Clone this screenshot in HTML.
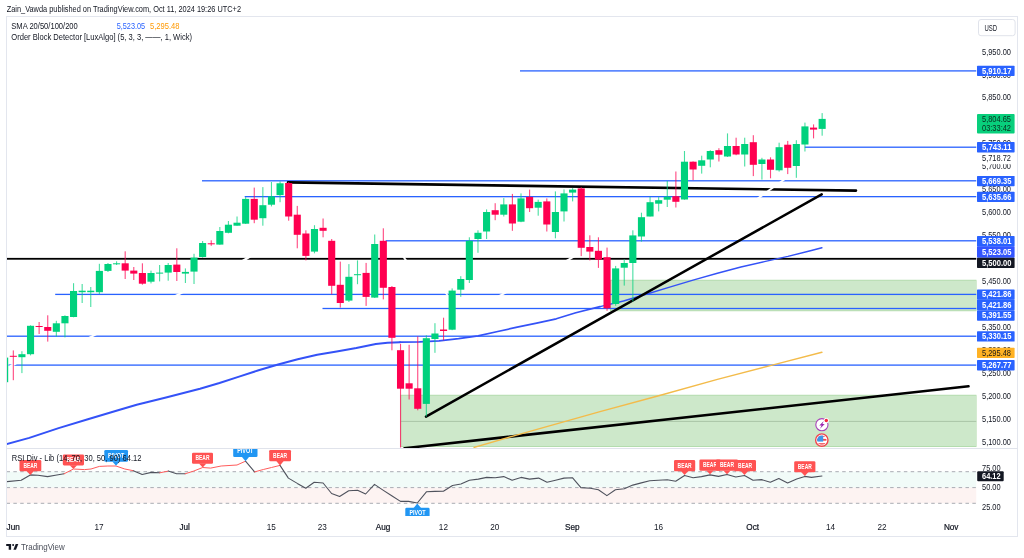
<!DOCTYPE html>
<html lang="en"><head><meta charset="utf-8"><title>US500 chart</title>
<style>html,body{margin:0;padding:0;background:#fff;overflow:hidden}svg{display:block}</style></head>
<body>
<svg width="1024" height="558" viewBox="0 0 1024 558" font-family="'Liberation Sans', Arial, sans-serif">
<defs><clipPath id="cm"><rect x="7" y="17" width="969.5" height="431"/></clipPath><clipPath id="cr"><rect x="7" y="449" width="969.5" height="67"/></clipPath></defs>
<rect width="1024" height="558" fill="#fff"/>
<rect x="6.5" y="16.5" width="1011" height="520" fill="#fff" stroke="#e3e6ee" stroke-width="1"/>
<line x1="6.5" y1="448.5" x2="1017.5" y2="448.5" stroke="#e0e3eb" stroke-width="1"/>
<g clip-path="url(#cm)">
<rect x="400.8" y="395.2" width="575.7" height="51.4" fill="#cde8ca" stroke="#a8d8a2" stroke-width="0.8"/>
<line x1="400.8" y1="421.4" x2="976.5" y2="421.4" stroke="#a9c4a6" stroke-width="1"/>
<rect x="610.5" y="280.2" width="366.0" height="30.600000000000023" fill="#cde8ca" stroke="#a8d8a2" stroke-width="0.8"/>
<rect x="520" y="70.25" width="456.5" height="1.3" fill="#2962ff"/>
<rect x="804.8" y="146.55" width="171.7" height="1.3" fill="#2962ff"/>
<rect x="202" y="180.15" width="774.5" height="1.3" fill="#2962ff"/>
<rect x="244.7" y="196.00" width="731.8" height="1.3" fill="#2962ff"/>
<rect x="385.7" y="240.15" width="590.8" height="1.3" fill="#2962ff"/>
<rect x="55.2" y="293.75" width="921.3" height="1.3" fill="#2962ff"/>
<rect x="322.5" y="307.85" width="654.0" height="1.3" fill="#2962ff"/>
<rect x="6.5" y="335.55" width="970.0" height="1.3" fill="#2962ff"/>
<rect x="8.5" y="364.45" width="968.0" height="1.3" fill="#2962ff"/>
<rect x="6.5" y="257.9" width="970.0" height="1.8" fill="#000"/>
<polyline fill="none" stroke="#3452f7" stroke-width="2.0" stroke-linejoin="round" stroke-linecap="round" points="6.5,444.2 29.3,437.9 58.6,428.1 87.9,419.3 117.2,410.5 136.7,404.7 166,397.5 200,388.7 219.5,383 239.1,376.6 258.6,370.3 278.1,364.5 297.7,359.2 317.2,354.7 336.7,351.4 356.3,347.9 375.8,343.9 387.5,342.7 400,342.2"/>
<polyline fill="none" stroke="#3452f7" stroke-width="1.7" stroke-linejoin="round" stroke-linecap="round" points="400,342.2 419.5,341.8 439.1,340.8 458.6,338.7 478.1,335.8 497.7,331.5 517.2,327.2 536.7,323.1 556.3,318.8 575.8,312.8 600,306.6"/>
<polyline fill="none" stroke="#3452f7" stroke-width="1.45" stroke-linejoin="round" stroke-linecap="round" points="600,306.6 623.5,301 647,294 670.5,286.9 693.9,279.9 717.4,273.3 740.9,267 764.4,261.6 787.9,256.4 811.4,250.5 821.9,247.7"/>
<line x1="288" y1="182.4" x2="856" y2="190.6" stroke="#000" stroke-width="2.6" stroke-linecap="round"/>
<line x1="426" y1="416.6" x2="821.7" y2="194.3" stroke="#000" stroke-width="2.5" stroke-linecap="round"/>
<line x1="404.5" y1="448.2" x2="968.5" y2="386.3" stroke="#000" stroke-width="2.6" stroke-linecap="round"/>
<polyline fill="none" stroke="#f3bb4a" stroke-width="1.4" stroke-linejoin="round" stroke-linecap="round" points="474.1,447.4 513.9,435.8 600,411.7 658.7,395.8 717.4,379.3 776.1,364.1 821.9,352.3"/>
<line x1="757" y1="199" x2="786" y2="178.2" stroke="#fff" stroke-width="1.9"/>
<line x1="240.9" y1="262.0" x2="250.9" y2="256.0" stroke="#fff" stroke-width="2.6"/>
<line x1="402.9" y1="256.0" x2="407.1" y2="262.0" stroke="#fff" stroke-width="2.0"/>
<line x1="564.7" y1="261.8" x2="574.7" y2="256.2" stroke="#fff" stroke-width="2.0"/>
<line x1="497.3" y1="297.1" x2="507.3" y2="291.6" stroke="#fff" stroke-width="2.0"/>
<line x1="444.4" y1="291.4" x2="449.4" y2="297.4" stroke="#fff" stroke-width="1.6"/>
<line x1="173.5" y1="297.0" x2="183.5" y2="291.8" stroke="#fff" stroke-width="2.0"/>
<line x1="87.5" y1="338.7" x2="97.5" y2="333.7" stroke="#fff" stroke-width="2.0"/>
<line x1="7.6" y1="368.1" x2="17.6" y2="362.1" stroke="#fff" stroke-width="2.4"/>
<g>
<rect x="6.5" y="357.6" width="1.7" height="24.6" fill="#00d17d"/>
<rect x="12.77" y="350.4" width="1.1" height="29.8" fill="#ff0050" opacity="0.72"/>
<rect x="9.77" y="355.8" width="7.1" height="1.0" fill="#ff0050"/>
<rect x="21.37" y="351.2" width="1.1" height="21.9" fill="#00d17d" opacity="0.72"/>
<rect x="18.37" y="354.2" width="7.1" height="3.0" fill="#00d17d"/>
<rect x="29.98" y="325.3" width="1.1" height="30.1" fill="#00d17d" opacity="0.72"/>
<rect x="26.98" y="325.8" width="7.1" height="28.4" fill="#00d17d"/>
<rect x="38.58" y="322.0" width="1.1" height="12.0" fill="#ff0050" opacity="0.72"/>
<rect x="35.58" y="326.0" width="7.1" height="1.0" fill="#ff0050"/>
<rect x="47.19" y="315.3" width="1.1" height="26.3" fill="#ff0050" opacity="0.72"/>
<rect x="44.19" y="327.0" width="7.1" height="3.8" fill="#ff0050"/>
<rect x="55.79" y="320.8" width="1.1" height="15.8" fill="#00d17d" opacity="0.72"/>
<rect x="52.79" y="323.3" width="7.1" height="8.5" fill="#00d17d"/>
<rect x="64.40" y="315.3" width="1.1" height="22.1" fill="#00d17d" opacity="0.72"/>
<rect x="61.40" y="316.0" width="7.1" height="7.3" fill="#00d17d"/>
<rect x="73.00" y="283.2" width="1.1" height="34.1" fill="#00d17d" opacity="0.72"/>
<rect x="70.00" y="291.0" width="7.1" height="26.0" fill="#00d17d"/>
<rect x="81.61" y="284.0" width="1.1" height="19.0" fill="#00d17d" opacity="0.72"/>
<rect x="78.61" y="290.7" width="7.1" height="1.5" fill="#00d17d"/>
<rect x="90.21" y="287.0" width="1.1" height="20.0" fill="#00d17d" opacity="0.72"/>
<rect x="87.21" y="290.7" width="7.1" height="1.5" fill="#00d17d"/>
<rect x="98.82" y="263.8" width="1.1" height="30.2" fill="#00d17d" opacity="0.72"/>
<rect x="95.82" y="270.9" width="7.1" height="21.3" fill="#00d17d"/>
<rect x="107.42" y="263.0" width="1.1" height="9.0" fill="#00d17d" opacity="0.72"/>
<rect x="104.42" y="264.0" width="7.1" height="6.9" fill="#00d17d"/>
<rect x="116.03" y="261.3" width="1.1" height="3.7" fill="#00d17d" opacity="0.72"/>
<rect x="113.03" y="263.3" width="7.1" height="1.0" fill="#00d17d"/>
<rect x="124.63" y="251.3" width="1.1" height="27.7" fill="#ff0050" opacity="0.72"/>
<rect x="121.63" y="263.3" width="7.1" height="7.3" fill="#ff0050"/>
<rect x="133.23" y="267.0" width="1.1" height="13.0" fill="#ff0050" opacity="0.72"/>
<rect x="130.23" y="270.6" width="7.1" height="3.0" fill="#ff0050"/>
<rect x="141.84" y="263.3" width="1.1" height="21.4" fill="#ff0050" opacity="0.72"/>
<rect x="138.84" y="273.0" width="7.1" height="10.7" fill="#ff0050"/>
<rect x="150.44" y="270.6" width="1.1" height="12.8" fill="#00d17d" opacity="0.72"/>
<rect x="147.44" y="273.0" width="7.1" height="8.7" fill="#00d17d"/>
<rect x="159.05" y="265.0" width="1.1" height="16.4" fill="#00d17d" opacity="0.72"/>
<rect x="156.05" y="272.6" width="7.1" height="1.0" fill="#00d17d"/>
<rect x="167.65" y="263.0" width="1.1" height="17.7" fill="#00d17d" opacity="0.72"/>
<rect x="164.65" y="265.0" width="7.1" height="7.6" fill="#00d17d"/>
<rect x="176.26" y="248.3" width="1.1" height="32.7" fill="#ff0050" opacity="0.72"/>
<rect x="173.26" y="264.6" width="7.1" height="7.4" fill="#ff0050"/>
<rect x="184.86" y="268.4" width="1.1" height="14.6" fill="#00d17d" opacity="0.72"/>
<rect x="181.86" y="271.9" width="7.1" height="1.7" fill="#00d17d"/>
<rect x="193.47" y="253.8" width="1.1" height="30.2" fill="#00d17d" opacity="0.72"/>
<rect x="190.47" y="257.6" width="7.1" height="14.0" fill="#00d17d"/>
<rect x="202.07" y="241.0" width="1.1" height="16.6" fill="#00d17d" opacity="0.72"/>
<rect x="199.07" y="243.0" width="7.1" height="14.0" fill="#00d17d"/>
<rect x="210.68" y="240.3" width="1.1" height="5.5" fill="#ff0050" opacity="0.72"/>
<rect x="207.68" y="243.3" width="7.1" height="1.0" fill="#ff0050"/>
<rect x="219.28" y="227.0" width="1.1" height="17.8" fill="#00d17d" opacity="0.72"/>
<rect x="216.28" y="231.0" width="7.1" height="13.6" fill="#00d17d"/>
<rect x="227.88" y="221.0" width="1.1" height="12.3" fill="#00d17d" opacity="0.72"/>
<rect x="224.88" y="224.7" width="7.1" height="8.1" fill="#00d17d"/>
<rect x="236.49" y="216.5" width="1.1" height="9.2" fill="#00d17d" opacity="0.72"/>
<rect x="233.49" y="222.7" width="7.1" height="3.0" fill="#00d17d"/>
<rect x="245.09" y="197.1" width="1.1" height="26.9" fill="#00d17d" opacity="0.72"/>
<rect x="242.09" y="198.9" width="7.1" height="24.8" fill="#00d17d"/>
<rect x="253.70" y="187.6" width="1.1" height="35.6" fill="#ff0050" opacity="0.72"/>
<rect x="250.70" y="198.9" width="7.1" height="20.8" fill="#ff0050"/>
<rect x="262.30" y="187.1" width="1.1" height="38.6" fill="#00d17d" opacity="0.72"/>
<rect x="259.30" y="205.2" width="7.1" height="13.0" fill="#00d17d"/>
<rect x="270.91" y="182.0" width="1.1" height="24.4" fill="#00d17d" opacity="0.72"/>
<rect x="267.91" y="196.4" width="7.1" height="8.3" fill="#00d17d"/>
<rect x="279.51" y="181.3" width="1.1" height="20.9" fill="#00d17d" opacity="0.72"/>
<rect x="276.51" y="183.3" width="7.1" height="11.8" fill="#00d17d"/>
<rect x="288.12" y="182.0" width="1.1" height="38.7" fill="#ff0050" opacity="0.72"/>
<rect x="285.12" y="183.0" width="7.1" height="33.5" fill="#ff0050"/>
<rect x="296.72" y="205.9" width="1.1" height="42.4" fill="#ff0050" opacity="0.72"/>
<rect x="293.72" y="214.7" width="7.1" height="20.1" fill="#ff0050"/>
<rect x="305.33" y="230.3" width="1.1" height="30.1" fill="#ff0050" opacity="0.72"/>
<rect x="302.33" y="233.5" width="7.1" height="22.4" fill="#ff0050"/>
<rect x="313.93" y="225.2" width="1.1" height="28.1" fill="#00d17d" opacity="0.72"/>
<rect x="310.93" y="229.0" width="7.1" height="22.6" fill="#00d17d"/>
<rect x="322.54" y="218.5" width="1.1" height="18.8" fill="#ff0050" opacity="0.72"/>
<rect x="319.54" y="227.8" width="7.1" height="3.0" fill="#ff0050"/>
<rect x="331.14" y="239.0" width="1.1" height="55.3" fill="#ff0050" opacity="0.72"/>
<rect x="328.14" y="240.8" width="7.1" height="45.0" fill="#ff0050"/>
<rect x="339.74" y="261.6" width="1.1" height="46.0" fill="#ff0050" opacity="0.72"/>
<rect x="336.74" y="284.8" width="7.1" height="18.2" fill="#ff0050"/>
<rect x="348.35" y="264.1" width="1.1" height="37.9" fill="#00d17d" opacity="0.72"/>
<rect x="345.35" y="276.8" width="7.1" height="23.8" fill="#00d17d"/>
<rect x="356.95" y="260.4" width="1.1" height="23.8" fill="#00d17d" opacity="0.72"/>
<rect x="353.95" y="274.2" width="7.1" height="1.0" fill="#00d17d"/>
<rect x="365.56" y="262.9" width="1.1" height="43.0" fill="#ff0050" opacity="0.72"/>
<rect x="362.56" y="272.9" width="7.1" height="24.0" fill="#ff0050"/>
<rect x="374.16" y="234.5" width="1.1" height="63.5" fill="#00d17d" opacity="0.72"/>
<rect x="371.16" y="244.0" width="7.1" height="53.6" fill="#00d17d"/>
<rect x="382.77" y="228.3" width="1.1" height="71.1" fill="#ff0050" opacity="0.72"/>
<rect x="379.77" y="240.8" width="7.1" height="47.0" fill="#ff0050"/>
<rect x="391.37" y="286.0" width="1.1" height="64.3" fill="#ff0050" opacity="0.72"/>
<rect x="388.37" y="287.0" width="7.1" height="50.8" fill="#ff0050"/>
<rect x="399.98" y="343.8" width="1.1" height="103.7" fill="#ff0050" opacity="0.72"/>
<rect x="396.98" y="350.2" width="7.1" height="38.5" fill="#ff0050"/>
<rect x="408.58" y="344.8" width="1.1" height="54.7" fill="#ff0050" opacity="0.72"/>
<rect x="405.58" y="383.3" width="7.1" height="5.4" fill="#ff0050"/>
<rect x="417.19" y="336.4" width="1.1" height="73.9" fill="#ff0050" opacity="0.72"/>
<rect x="414.19" y="388.3" width="7.1" height="20.5" fill="#ff0050"/>
<rect x="425.79" y="335.3" width="1.1" height="81.3" fill="#00d17d" opacity="0.72"/>
<rect x="422.79" y="338.2" width="7.1" height="65.7" fill="#00d17d"/>
<rect x="434.40" y="323.2" width="1.1" height="29.6" fill="#00d17d" opacity="0.72"/>
<rect x="431.40" y="333.5" width="7.1" height="5.5" fill="#00d17d"/>
<rect x="443.00" y="317.7" width="1.1" height="22.6" fill="#ff0050" opacity="0.72"/>
<rect x="440.00" y="329.5" width="7.1" height="1.5" fill="#ff0050"/>
<rect x="451.60" y="288.4" width="1.1" height="41.8" fill="#00d17d" opacity="0.72"/>
<rect x="448.60" y="290.6" width="7.1" height="39.1" fill="#00d17d"/>
<rect x="460.21" y="276.2" width="1.1" height="20.6" fill="#00d17d" opacity="0.72"/>
<rect x="457.21" y="279.0" width="7.1" height="10.7" fill="#00d17d"/>
<rect x="468.81" y="237.3" width="1.1" height="45.7" fill="#00d17d" opacity="0.72"/>
<rect x="465.81" y="240.8" width="7.1" height="39.2" fill="#00d17d"/>
<rect x="477.42" y="230.3" width="1.1" height="22.5" fill="#00d17d" opacity="0.72"/>
<rect x="474.42" y="232.8" width="7.1" height="6.2" fill="#00d17d"/>
<rect x="486.02" y="209.4" width="1.1" height="29.6" fill="#00d17d" opacity="0.72"/>
<rect x="483.02" y="212.0" width="7.1" height="19.5" fill="#00d17d"/>
<rect x="494.63" y="203.2" width="1.1" height="17.0" fill="#ff0050" opacity="0.72"/>
<rect x="491.63" y="210.2" width="7.1" height="4.5" fill="#ff0050"/>
<rect x="503.23" y="198.1" width="1.1" height="18.4" fill="#00d17d" opacity="0.72"/>
<rect x="500.23" y="204.4" width="7.1" height="10.3" fill="#00d17d"/>
<rect x="511.84" y="193.9" width="1.1" height="36.9" fill="#ff0050" opacity="0.72"/>
<rect x="508.84" y="204.4" width="7.1" height="19.1" fill="#ff0050"/>
<rect x="520.44" y="193.4" width="1.1" height="28.8" fill="#00d17d" opacity="0.72"/>
<rect x="517.44" y="198.4" width="7.1" height="23.3" fill="#00d17d"/>
<rect x="529.05" y="189.6" width="1.1" height="22.4" fill="#ff0050" opacity="0.72"/>
<rect x="526.05" y="196.9" width="7.1" height="11.3" fill="#ff0050"/>
<rect x="537.65" y="199.6" width="1.1" height="16.1" fill="#00d17d" opacity="0.72"/>
<rect x="534.65" y="201.9" width="7.1" height="5.8" fill="#00d17d"/>
<rect x="546.26" y="198.4" width="1.1" height="33.1" fill="#ff0050" opacity="0.72"/>
<rect x="543.26" y="201.4" width="7.1" height="23.1" fill="#ff0050"/>
<rect x="554.86" y="191.4" width="1.1" height="46.9" fill="#00d17d" opacity="0.72"/>
<rect x="551.86" y="212.0" width="7.1" height="20.0" fill="#00d17d"/>
<rect x="563.46" y="189.4" width="1.1" height="32.1" fill="#00d17d" opacity="0.72"/>
<rect x="560.46" y="193.4" width="7.1" height="18.0" fill="#00d17d"/>
<rect x="572.07" y="188.1" width="1.1" height="13.3" fill="#00d17d" opacity="0.72"/>
<rect x="569.07" y="189.6" width="7.1" height="3.0" fill="#00d17d"/>
<rect x="580.67" y="187.1" width="1.1" height="69.0" fill="#ff0050" opacity="0.72"/>
<rect x="577.67" y="188.4" width="7.1" height="59.4" fill="#ff0050"/>
<rect x="589.28" y="235.3" width="1.1" height="25.1" fill="#ff0050" opacity="0.72"/>
<rect x="586.28" y="247.0" width="7.1" height="4.6" fill="#ff0050"/>
<rect x="597.88" y="237.3" width="1.1" height="30.6" fill="#ff0050" opacity="0.72"/>
<rect x="594.88" y="250.8" width="7.1" height="8.8" fill="#ff0050"/>
<rect x="606.49" y="247.6" width="1.1" height="63.2" fill="#ff0050" opacity="0.72"/>
<rect x="603.49" y="257.2" width="7.1" height="51.1" fill="#ff0050"/>
<rect x="615.09" y="265.9" width="1.1" height="39.9" fill="#00d17d" opacity="0.72"/>
<rect x="612.09" y="268.4" width="7.1" height="35.6" fill="#00d17d"/>
<rect x="623.70" y="259.2" width="1.1" height="26.4" fill="#00d17d" opacity="0.72"/>
<rect x="620.70" y="263.0" width="7.1" height="4.7" fill="#00d17d"/>
<rect x="632.30" y="230.3" width="1.1" height="71.2" fill="#00d17d" opacity="0.72"/>
<rect x="629.30" y="235.4" width="7.1" height="27.6" fill="#00d17d"/>
<rect x="640.91" y="212.7" width="1.1" height="28.9" fill="#00d17d" opacity="0.72"/>
<rect x="637.91" y="217.2" width="7.1" height="19.3" fill="#00d17d"/>
<rect x="649.51" y="196.9" width="1.1" height="19.6" fill="#00d17d" opacity="0.72"/>
<rect x="646.51" y="202.2" width="7.1" height="14.3" fill="#00d17d"/>
<rect x="658.12" y="197.1" width="1.1" height="14.3" fill="#00d17d" opacity="0.72"/>
<rect x="655.12" y="200.2" width="7.1" height="3.5" fill="#00d17d"/>
<rect x="666.72" y="181.0" width="1.1" height="26.0" fill="#00d17d" opacity="0.72"/>
<rect x="663.72" y="196.7" width="7.1" height="3.0" fill="#00d17d"/>
<rect x="675.32" y="171.5" width="1.1" height="36.0" fill="#ff0050" opacity="0.72"/>
<rect x="672.32" y="196.2" width="7.1" height="5.6" fill="#ff0050"/>
<rect x="683.93" y="151.0" width="1.1" height="48.7" fill="#00d17d" opacity="0.72"/>
<rect x="680.93" y="161.7" width="7.1" height="37.8" fill="#00d17d"/>
<rect x="692.53" y="161.4" width="1.1" height="18.8" fill="#ff0050" opacity="0.72"/>
<rect x="689.53" y="161.7" width="7.1" height="7.8" fill="#ff0050"/>
<rect x="701.14" y="155.7" width="1.1" height="17.9" fill="#00d17d" opacity="0.72"/>
<rect x="698.14" y="160.3" width="7.1" height="5.5" fill="#00d17d"/>
<rect x="709.74" y="150.2" width="1.1" height="17.1" fill="#00d17d" opacity="0.72"/>
<rect x="706.74" y="151.0" width="7.1" height="8.5" fill="#00d17d"/>
<rect x="718.35" y="148.2" width="1.1" height="13.3" fill="#ff0050" opacity="0.72"/>
<rect x="715.35" y="150.2" width="7.1" height="4.5" fill="#ff0050"/>
<rect x="726.95" y="133.4" width="1.1" height="23.6" fill="#00d17d" opacity="0.72"/>
<rect x="723.95" y="146.0" width="7.1" height="10.5" fill="#00d17d"/>
<rect x="735.56" y="137.7" width="1.1" height="17.5" fill="#ff0050" opacity="0.72"/>
<rect x="732.56" y="146.0" width="7.1" height="8.5" fill="#ff0050"/>
<rect x="744.16" y="137.7" width="1.1" height="28.8" fill="#00d17d" opacity="0.72"/>
<rect x="741.16" y="144.0" width="7.1" height="10.5" fill="#00d17d"/>
<rect x="752.77" y="135.2" width="1.1" height="40.9" fill="#ff0050" opacity="0.72"/>
<rect x="749.77" y="142.2" width="7.1" height="22.6" fill="#ff0050"/>
<rect x="761.37" y="157.8" width="1.1" height="21.8" fill="#00d17d" opacity="0.72"/>
<rect x="758.37" y="159.5" width="7.1" height="4.5" fill="#00d17d"/>
<rect x="769.97" y="157.3" width="1.1" height="21.0" fill="#ff0050" opacity="0.72"/>
<rect x="766.97" y="159.5" width="7.1" height="10.3" fill="#ff0050"/>
<rect x="778.58" y="142.7" width="1.1" height="28.9" fill="#00d17d" opacity="0.72"/>
<rect x="775.58" y="147.2" width="7.1" height="23.1" fill="#00d17d"/>
<rect x="787.18" y="140.9" width="1.1" height="33.2" fill="#ff0050" opacity="0.72"/>
<rect x="784.18" y="144.7" width="7.1" height="23.1" fill="#ff0050"/>
<rect x="795.79" y="140.2" width="1.1" height="37.6" fill="#00d17d" opacity="0.72"/>
<rect x="792.79" y="144.0" width="7.1" height="22.0" fill="#00d17d"/>
<rect x="804.39" y="122.6" width="1.1" height="28.9" fill="#00d17d" opacity="0.72"/>
<rect x="801.39" y="126.4" width="7.1" height="18.1" fill="#00d17d"/>
<rect x="813.00" y="124.4" width="1.1" height="14.0" fill="#ff0050" opacity="0.72"/>
<rect x="810.00" y="127.6" width="7.1" height="2.0" fill="#ff0050"/>
<rect x="821.60" y="113.1" width="1.1" height="22.6" fill="#00d17d" opacity="0.72"/>
<rect x="818.60" y="118.9" width="7.1" height="10.0" fill="#00d17d"/>
</g>
<g><circle cx="821.9" cy="424.7" r="6.1" fill="#fff" stroke="#a842b8" stroke-width="1.1"/><path d="M823.8 421 L819.3 425.5 L821.6 425.5 L820 428.8 L824.7 424 L822.4 424 Z" fill="#9c27b0"/><circle cx="826.3" cy="420.5" r="2.6" fill="#fff"/><circle cx="826.3" cy="420.5" r="1.7" fill="#f5223d"/></g>
<g><clipPath id="fc"><circle cx="821.8" cy="440.1" r="4.7"/></clipPath><circle cx="821.8" cy="440.1" r="6.2" fill="#fff" stroke="#f0464f" stroke-width="1.4"/><g clip-path="url(#fc)"><rect x="815" y="433" width="14" height="14" fill="#fff"/><rect x="815" y="435.7" width="14" height="1.1" fill="#f0464f"/><rect x="815" y="438.9" width="14" height="1.8" fill="#f0464f"/><rect x="815" y="443.2" width="14" height="1.6" fill="#f0464f"/><rect x="815" y="433" width="8.2" height="8.6" fill="#3f94ea"/></g></g>
</g>
<g clip-path="url(#cr)">
<rect x="6.5" y="471.7" width="970.0" height="15.9" fill="#f1fbf8"/>
<rect x="6.5" y="487.6" width="970.0" height="15.7" fill="#fdf3f2"/>
<line x1="6.5" y1="471.7" x2="976.5" y2="471.7" stroke="#a9acb3" stroke-width="1" stroke-dasharray="3.5 3.35"/>
<line x1="6.5" y1="487.6" x2="976.5" y2="487.6" stroke="#a9acb3" stroke-width="1" stroke-dasharray="3.5 3.35"/>
<line x1="6.5" y1="503.3" x2="976.5" y2="503.3" stroke="#a9acb3" stroke-width="1" stroke-dasharray="3.5 3.35"/>
<polyline fill="none" stroke="#4f525d" stroke-width="1.1" stroke-linejoin="round" stroke-linecap="round" points="6,481.7 21.2,480.2 30.3,474.9 38,475.3 47.6,476.6 55.4,475.3 64.1,473.8"/>
<polyline fill="none" stroke="#ff5c5c" stroke-width="1.0" stroke-linejoin="round" stroke-linecap="round" points="64.1,473.8 73.4,469 84.6,469.6 91,469 99.4,466.4 107.9,466 116,466 124.8,469 133.3,470.7"/>
<polyline fill="none" stroke="#4f525d" stroke-width="1.1" stroke-linejoin="round" stroke-linecap="round" points="133.3,470.7 142.2,474.5 151.3,472.4 159.7,472.8"/>
<polyline fill="none" stroke="#ff5c5c" stroke-width="1.0" stroke-linejoin="round" stroke-linecap="round" points="159.7,472.8 168.2,471.1"/>
<polyline fill="none" stroke="#4f525d" stroke-width="1.1" stroke-linejoin="round" stroke-linecap="round" points="168.2,471.1 176.6,473.8 185.1,473.8"/>
<polyline fill="none" stroke="#ff5c5c" stroke-width="1.0" stroke-linejoin="round" stroke-linecap="round" points="185.1,473.8 193.6,471.1 202.7,467.5 210.6,468.1 221.2,466 237,465 245.5,461.2"/>
<polyline fill="none" stroke="#4f525d" stroke-width="1.1" stroke-linejoin="round" stroke-linecap="round" points="245.5,461.2 254.6,471.9"/>
<polyline fill="none" stroke="#ff5c5c" stroke-width="1.0" stroke-linejoin="round" stroke-linecap="round" points="254.6,471.9 263.3,469.5 271.5,467.5 280,465.4"/>
<polyline fill="none" stroke="#4f525d" stroke-width="1.1" stroke-linejoin="round" stroke-linecap="round" points="280,465.4 288.4,478.1 297.3,483.4 305.8,488.2 314.2,482.3 323.1,483 331.6,493.5 339.6,496.5 348.7,490.8 357.6,490.3 365.6,494 374.5,484.4 383,490.1 392.1,496 400.5,501.4 408.5,501.4 417.3,503 426.4,491.8 434.9,491.4 443.4,491.2 452.5,485.5 460.9,484 469.4,480.2 478.3,479.1 486.7,477.4 495.2,477.7 503.7,476.6 512.1,480.2 521,477.4 529.5,479.1 538.6,478.1 547,482.3 555.5,480.2 564,478.1 572.4,477.7 580.9,487.6 590.4,488.2 598.4,489.7 606.9,495.6 615.4,489.7 624.3,488.7 632.8,485.1 641.3,482.9 649.7,480.8 658.2,480.2 667.3,479.8 675.7,481.3 684.6,475.5 693.1,477.7 701.5,476.6 710,474.9 718.5,476.4 727,474.5 735.8,477 744.5,475.5 753,480.2 761.4,479.6 770.3,482.3 778.8,478.5 787.6,482.9 796.7,479.1 804.8,476.4 811.5,477.4 822,476"/>
</g>
<g clip-path="url(#cr)">
<rect x="19.5" y="460" width="21.8" height="11.3" rx="1.3" fill="#ff5252"/>
<path d="M26.6 471.1 L34.0 471.1 L30.3 475 Z" fill="#ff5252"/>
<text x="23.4" y="467.6" font-size="6.5" font-weight="bold" fill="#fff" textLength="14" lengthAdjust="spacingAndGlyphs">BEAR</text>
<rect x="62.8" y="454.4" width="21.2" height="11.0" rx="1.3" fill="#ff5252"/>
<path d="M69.7 465.2 L77.10000000000001 465.2 L73.4 469 Z" fill="#ff5252"/>
<text x="66.4" y="461.9" font-size="6.5" font-weight="bold" fill="#fff" textLength="14" lengthAdjust="spacingAndGlyphs">BEAR</text>
<rect x="104.3" y="450" width="23.7" height="11.8" rx="1.3" fill="#2196f3"/>
<path d="M112.3 461.6 L119.7 461.6 L116 465.8 Z" fill="#2196f3"/>
<text x="108.1" y="457.9" font-size="6.5" font-weight="bold" fill="#fff" textLength="16.2" lengthAdjust="spacingAndGlyphs">PIVOT</text>
<rect x="192" y="452.7" width="21.0" height="11.0" rx="1.3" fill="#ff5252"/>
<path d="M199.0 463.5 L206.39999999999998 463.5 L202.7 467.5 Z" fill="#ff5252"/>
<text x="195.5" y="460.2" font-size="6.5" font-weight="bold" fill="#fff" textLength="14" lengthAdjust="spacingAndGlyphs">BEAR</text>
<rect x="233.2" y="445.3" width="24.3" height="11.7" rx="1.3" fill="#2196f3"/>
<path d="M241.8 456.8 L249.2 456.8 L245.5 461.2 Z" fill="#2196f3"/>
<text x="237.2" y="453.1" font-size="6.5" font-weight="bold" fill="#fff" textLength="16.2" lengthAdjust="spacingAndGlyphs">PIVOT</text>
<rect x="269.2" y="450" width="21.8" height="11.2" rx="1.3" fill="#ff5252"/>
<path d="M276.3 461.0 L283.7 461.0 L280 465.4 Z" fill="#ff5252"/>
<text x="273.1" y="457.6" font-size="6.5" font-weight="bold" fill="#fff" textLength="14" lengthAdjust="spacingAndGlyphs">BEAR</text>
<rect x="405.3" y="507.7" width="24.3" height="11.0" rx="1.3" fill="#2196f3"/>
<path d="M413.6 507.9 L421.0 507.9 L417.3 503.5 Z" fill="#2196f3"/>
<text x="409.4" y="515.2" font-size="6.5" font-weight="bold" fill="#fff" textLength="16.2" lengthAdjust="spacingAndGlyphs">PIVOT</text>
<rect x="674" y="460.1" width="21.2" height="11.2" rx="1.3" fill="#ff5252"/>
<path d="M680.9 471.1 L688.3000000000001 471.1 L684.6 474.9 Z" fill="#ff5252"/>
<text x="677.6" y="467.7" font-size="6.5" font-weight="bold" fill="#fff" textLength="14" lengthAdjust="spacingAndGlyphs">BEAR</text>
<rect x="699.4" y="459.5" width="21.2" height="11.2" rx="1.3" fill="#ff5252"/>
<path d="M706.3 470.5 L713.7 470.5 L710 474.3 Z" fill="#ff5252"/>
<text x="703.0" y="467.1" font-size="6.5" font-weight="bold" fill="#fff" textLength="14" lengthAdjust="spacingAndGlyphs">BEAR</text>
<rect x="716" y="459.5" width="22.0" height="11.2" rx="1.3" fill="#ff5252"/>
<path d="M723.3 470.5 L730.7 470.5 L727 474.3 Z" fill="#ff5252"/>
<text x="720.0" y="467.1" font-size="6.5" font-weight="bold" fill="#fff" textLength="14" lengthAdjust="spacingAndGlyphs">BEAR</text>
<rect x="734.3" y="460.1" width="21.7" height="11.2" rx="1.3" fill="#ff5252"/>
<path d="M740.8 471.1 L748.2 471.1 L744.5 474.9 Z" fill="#ff5252"/>
<text x="738.1" y="467.7" font-size="6.5" font-weight="bold" fill="#fff" textLength="14" lengthAdjust="spacingAndGlyphs">BEAR</text>
<rect x="794.2" y="461.2" width="21.2" height="11.0" rx="1.3" fill="#ff5252"/>
<path d="M801.0999999999999 472.0 L808.5 472.0 L804.8 476 Z" fill="#ff5252"/>
<text x="797.8" y="468.7" font-size="6.5" font-weight="bold" fill="#fff" textLength="14" lengthAdjust="spacingAndGlyphs">BEAR</text>
</g>
<text x="11.8" y="461" font-size="8.4" fill="#131722" textLength="129.7" lengthAdjust="spacingAndGlyphs">RSI Div - Lib (14, 70, 30, 50, 90) 64.12</text>
<text x="982" y="55" font-size="8.4" fill="#131722" textLength="29" lengthAdjust="spacingAndGlyphs">5,950.00</text>
<text x="982" y="78" font-size="8.4" fill="#131722" textLength="29" lengthAdjust="spacingAndGlyphs">5,900.00</text>
<text x="982" y="100" font-size="8.4" fill="#131722" textLength="29" lengthAdjust="spacingAndGlyphs">5,850.00</text>
<text x="982" y="146" font-size="8.4" fill="#131722" textLength="29" lengthAdjust="spacingAndGlyphs">5,750.00</text>
<text x="982" y="169" font-size="8.4" fill="#131722" textLength="29" lengthAdjust="spacingAndGlyphs">5,700.00</text>
<text x="982" y="192" font-size="8.4" fill="#131722" textLength="29" lengthAdjust="spacingAndGlyphs">5,650.00</text>
<text x="982" y="215" font-size="8.4" fill="#131722" textLength="29" lengthAdjust="spacingAndGlyphs">5,600.00</text>
<text x="982" y="238" font-size="8.4" fill="#131722" textLength="29" lengthAdjust="spacingAndGlyphs">5,550.00</text>
<text x="982" y="284" font-size="8.4" fill="#131722" textLength="29" lengthAdjust="spacingAndGlyphs">5,450.00</text>
<text x="982" y="307" font-size="8.4" fill="#131722" textLength="29" lengthAdjust="spacingAndGlyphs">5,400.00</text>
<text x="982" y="330" font-size="8.4" fill="#131722" textLength="29" lengthAdjust="spacingAndGlyphs">5,350.00</text>
<text x="982" y="353" font-size="8.4" fill="#131722" textLength="29" lengthAdjust="spacingAndGlyphs">5,300.00</text>
<text x="982" y="376" font-size="8.4" fill="#131722" textLength="29" lengthAdjust="spacingAndGlyphs">5,250.00</text>
<text x="982" y="399" font-size="8.4" fill="#131722" textLength="29" lengthAdjust="spacingAndGlyphs">5,200.00</text>
<text x="982" y="422" font-size="8.4" fill="#131722" textLength="29" lengthAdjust="spacingAndGlyphs">5,150.00</text>
<text x="982" y="445" font-size="8.4" fill="#131722" textLength="29" lengthAdjust="spacingAndGlyphs">5,100.00</text>
<rect x="977" y="152.5" width="38" height="11.7" fill="#fff"/>
<text x="982" y="161" font-size="8.4" fill="#131722" textLength="29" lengthAdjust="spacingAndGlyphs">5,718.72</text>
<rect x="977" y="65.8" width="37.6" height="10.2" rx="0.7" fill="#2962ff"/>
<text x="982" y="74" font-size="8.4" font-weight="bold" fill="#fff" textLength="29.5" lengthAdjust="spacingAndGlyphs">5,910.17</text>
<rect x="977" y="113.9" width="37.6" height="19.5" rx="1" fill="#08cf7c"/>
<text x="982" y="122" font-size="8.4" fill="#0a2e1f" textLength="29" lengthAdjust="spacingAndGlyphs">5,804.65</text>
<text x="982" y="131" font-size="8.4" fill="#0a2e1f" textLength="29" lengthAdjust="spacingAndGlyphs">03:33:42</text>
<rect x="977" y="142.1" width="37.6" height="10.4" rx="0.7" fill="#2962ff"/>
<text x="982" y="150" font-size="8.4" font-weight="bold" fill="#fff" textLength="29.5" lengthAdjust="spacingAndGlyphs">5,743.11</text>
<rect x="977" y="175.9" width="37.6" height="10.4" rx="0.7" fill="#2962ff"/>
<text x="982" y="184" font-size="8.4" font-weight="bold" fill="#fff" textLength="29.5" lengthAdjust="spacingAndGlyphs">5,669.35</text>
<rect x="977" y="191.7" width="37.6" height="10.3" rx="0.7" fill="#2962ff"/>
<text x="982" y="200" font-size="8.4" font-weight="bold" fill="#fff" textLength="29.5" lengthAdjust="spacingAndGlyphs">5,635.66</text>
<rect x="977" y="236.1" width="37.6" height="10.3" rx="0.7" fill="#2962ff"/>
<text x="982" y="244" font-size="8.4" font-weight="bold" fill="#fff" textLength="29.5" lengthAdjust="spacingAndGlyphs">5,538.01</text>
<rect x="977" y="246.3" width="37.6" height="11.5" rx="0.7" fill="#3355ff"/>
<text x="982" y="255" font-size="8.4" font-weight="bold" fill="#fff" textLength="29.5" lengthAdjust="spacingAndGlyphs">5,523.05</text>
<rect x="977" y="257.7" width="37.6" height="10.2" rx="0.7" fill="#131722"/>
<text x="982" y="266" font-size="8.4" font-weight="bold" fill="#fff" textLength="29.5" lengthAdjust="spacingAndGlyphs">5,500.00</text>
<rect x="977" y="289.4" width="37.6" height="10.0" rx="0.7" fill="#2962ff"/>
<text x="982" y="297" font-size="8.4" font-weight="bold" fill="#fff" textLength="29.5" lengthAdjust="spacingAndGlyphs">5,421.86</text>
<rect x="977" y="299.3" width="37.6" height="10.9" rx="0.7" fill="#2962ff"/>
<text x="982" y="308" font-size="8.4" font-weight="bold" fill="#fff" textLength="29.5" lengthAdjust="spacingAndGlyphs">5,421.86</text>
<rect x="977" y="310.2" width="37.6" height="10.6" rx="0.7" fill="#2962ff"/>
<text x="982" y="318" font-size="8.4" font-weight="bold" fill="#fff" textLength="29.5" lengthAdjust="spacingAndGlyphs">5,391.55</text>
<rect x="977" y="331.2" width="37.6" height="10.4" rx="0.7" fill="#2962ff"/>
<text x="982" y="339" font-size="8.4" font-weight="bold" fill="#fff" textLength="29.5" lengthAdjust="spacingAndGlyphs">5,330.15</text>
<rect x="977" y="347.8" width="37.6" height="10.2" rx="0.7" fill="#ffb224"/>
<text x="982" y="356" font-size="8.4" fill="#1a1a1a" textLength="29" lengthAdjust="spacingAndGlyphs">5,295.48</text>
<rect x="977" y="360.1" width="37.6" height="10.4" rx="0.7" fill="#2962ff"/>
<text x="982" y="368" font-size="8.4" font-weight="bold" fill="#fff" textLength="29.5" lengthAdjust="spacingAndGlyphs">5,267.77</text>
<rect x="978.5" y="19.5" width="36.6" height="16.2" rx="2.5" fill="#fff" stroke="#e0e3eb" stroke-width="1"/>
<text x="984.5" y="31" font-size="8.4" fill="#131722" textLength="12.6" lengthAdjust="spacingAndGlyphs">USD</text>
<text x="982" y="471" font-size="8.4" fill="#131722" textLength="18.6" lengthAdjust="spacingAndGlyphs">75.00</text>
<text x="982" y="490" font-size="8.4" fill="#131722" textLength="18.6" lengthAdjust="spacingAndGlyphs">50.00</text>
<text x="982" y="510" font-size="8.4" fill="#131722" textLength="18.6" lengthAdjust="spacingAndGlyphs">25.00</text>
<rect x="977.2" y="471.3" width="26.5" height="10" rx="1" fill="#131722"/>
<text x="982" y="479" font-size="8.4" font-weight="bold" fill="#fff" textLength="18.6" lengthAdjust="spacingAndGlyphs">64.12</text>
<text x="13.2" y="530" font-size="8.2" fill="#131722" text-anchor="middle" stroke="#131722" stroke-width="0.22">Jun</text>
<text x="99" y="530" font-size="8.2" fill="#131722" text-anchor="middle">17</text>
<text x="184.7" y="530" font-size="8.2" fill="#131722" text-anchor="middle" stroke="#131722" stroke-width="0.22">Jul</text>
<text x="271.3" y="530" font-size="8.2" fill="#131722" text-anchor="middle">15</text>
<text x="322.3" y="530" font-size="8.2" fill="#131722" text-anchor="middle">23</text>
<text x="383" y="530" font-size="8.2" fill="#131722" text-anchor="middle" stroke="#131722" stroke-width="0.22">Aug</text>
<text x="443.4" y="530" font-size="8.2" fill="#131722" text-anchor="middle">12</text>
<text x="494.8" y="530" font-size="8.2" fill="#131722" text-anchor="middle">20</text>
<text x="572.4" y="530" font-size="8.2" fill="#131722" text-anchor="middle" stroke="#131722" stroke-width="0.22">Sep</text>
<text x="658.6" y="530" font-size="8.2" fill="#131722" text-anchor="middle">16</text>
<text x="752.7" y="530" font-size="8.2" fill="#131722" text-anchor="middle" stroke="#131722" stroke-width="0.22">Oct</text>
<text x="830.6" y="530" font-size="8.2" fill="#131722" text-anchor="middle">14</text>
<text x="882" y="530" font-size="8.2" fill="#131722" text-anchor="middle">22</text>
<text x="951.2" y="530" font-size="8.2" fill="#131722" text-anchor="middle" stroke="#131722" stroke-width="0.22">Nov</text>
<text x="6.7" y="12" font-size="8.4" fill="#131722" textLength="234.3" lengthAdjust="spacingAndGlyphs">Zain_Vawda published on TradingView.com, Oct 11, 2024 19:26 UTC+2</text>
<text x="11.3" y="29" font-size="8.4" fill="#131722" textLength="66.5" lengthAdjust="spacingAndGlyphs">SMA 20/50/100/200</text>
<text x="116.7" y="29" font-size="8.4" fill="#2962ff" textLength="28.4" lengthAdjust="spacingAndGlyphs">5,523.05</text>
<text x="150" y="29" font-size="8.4" fill="#ff9800" textLength="29.4" lengthAdjust="spacingAndGlyphs">5,295.48</text>
<text x="11.3" y="40" font-size="8.4" fill="#131722" textLength="180.7" lengthAdjust="spacingAndGlyphs">Order Block Detector [LuxAlgo] (5, 3, 3, ——, 1, Wick)</text>
<g fill="#131722"><path d="M6.2 543.9 H11.1 V549.7 H8.7 V545.9 H6.2 Z"/><circle cx="13.1" cy="544.9" r="1.0"/><path d="M15.7 543.9 H18.3 L16.0 549.7 H13.4 Z"/></g>
<text x="21" y="550" font-size="8.4" fill="#4a4e59" textLength="43.8" lengthAdjust="spacingAndGlyphs">TradingView</text>
</svg>
</body></html>
